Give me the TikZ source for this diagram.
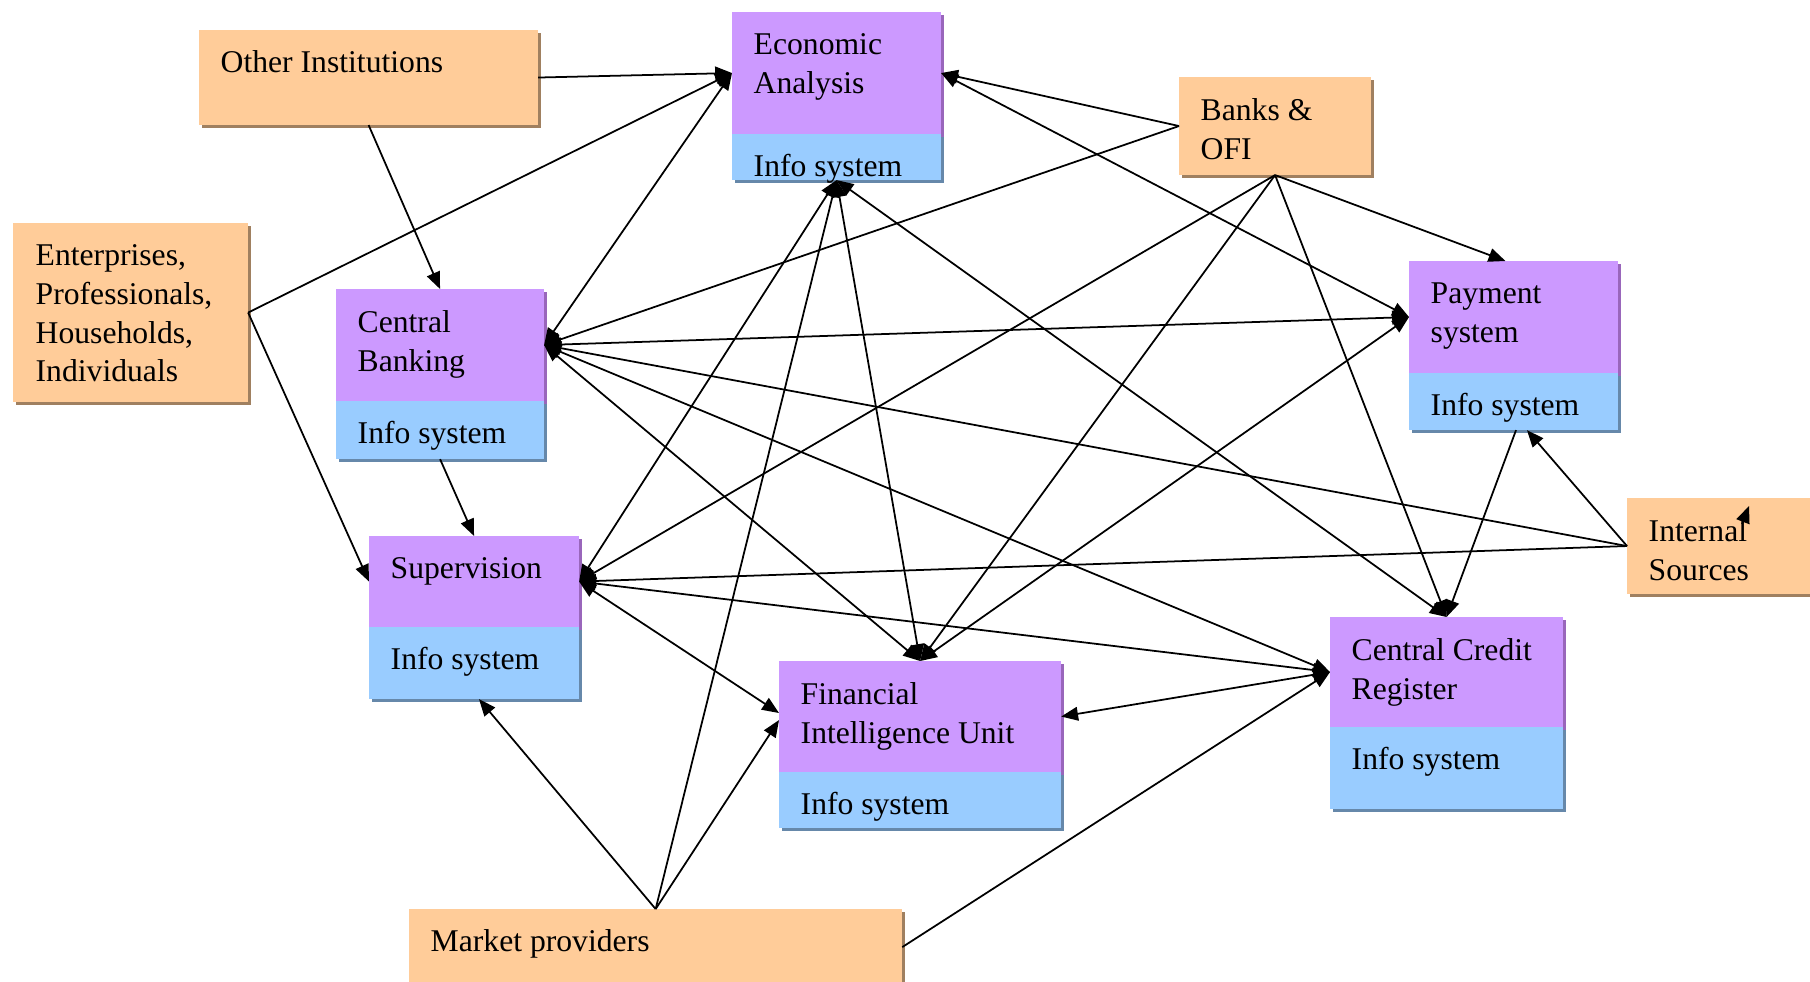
\documentclass[tikz,border=0pt]{standalone}
\usepackage{fontspec}
\setmainfont{Liberation Serif}
\usetikzlibrary{shapes,arrows,arrows.meta,positioning,shadows}
\definecolor{srcfill}{HTML}{FFCC99}
\definecolor{srcshade}{HTML}{A08060}
\definecolor{deptfill}{HTML}{CC99FF}
\definecolor{deptshade}{HTML}{9966BB}
\definecolor{infofill}{HTML}{99CCFF}
\definecolor{infoshade}{HTML}{6688AA}
\tikzset{%
	box/.style      = {rectangle, inner sep=0pt, outer sep=0pt},
	source/.style   = {box, anchor=north west, fill=srcfill,
		drop shadow={shadow xshift=0.85pt, shadow yshift=-0.85pt, fill=srcshade, opacity=1}}, % Data source
	dept/.style     = {box, anchor=north west, fill=deptfill,
		drop shadow={shadow xshift=0.85pt, shadow yshift=-0.85pt, fill=deptshade, opacity=1}}, % Department
	info/.style     = {box, fill=infofill,
		drop shadow={shadow xshift=0.85pt, shadow yshift=-0.85pt, fill=infoshade, opacity=1}}, % Info system
	txt/.style      = {anchor=north west, inner sep=0pt, align=left,
		font=\fontsize{9pt}{11pt}\selectfont, execute at begin node=\strut},
	flow/.style     = {line width=0.5pt, -{Triangle[length=4.8pt,width=3.9pt]}},
	both/.style     = {line width=0.5pt, {Triangle[length=4.8pt,width=3.9pt]}-{Triangle[length=4.8pt,width=3.9pt]}}
}
\begin{document}
\begin{tikzpicture}[x=0.01cm, y=-0.01cm]
			\useasboundingbox (0,0) rectangle (1810,981);
			% sources
			\node[source, minimum width=3.39cm, minimum height=0.95cm] (oi) at (199,30) {};
			\node[source, minimum width=2.35cm, minimum height=1.79cm] (ent) at (13,223) {};
			\node[source, minimum width=1.92cm, minimum height=0.98cm] (banks) at (1179,77) {};
			\node[source, minimum width=2.00cm, minimum height=0.96cm] (internal) at (1627,498) {};
			\node[source, minimum width=4.93cm, minimum height=1.00cm] (market) at (409,909) {};
			% departments
			\node[dept, minimum width=2.09cm, minimum height=1.22cm] (ea) at (732,12) {};
			\node[info, minimum width=2.09cm, minimum height=0.46cm, below=0pt of ea] (eainfo) {};
			\node[dept, minimum width=2.08cm, minimum height=1.12cm] (cb) at (336,289) {};
			\node[info, minimum width=2.08cm, minimum height=0.58cm, below=0pt of cb] (cbinfo) {};
			\node[dept, minimum width=2.10cm, minimum height=0.91cm] (sup) at (369,536) {};
			\node[info, minimum width=2.10cm, minimum height=0.72cm, below=0pt of sup] (supinfo) {};
			\node[dept, minimum width=2.82cm, minimum height=1.11cm] (fiu) at (779,661) {};
			\node[info, minimum width=2.82cm, minimum height=0.56cm, below=0pt of fiu] (fiuinfo) {};
			\node[dept, minimum width=2.09cm, minimum height=1.12cm] (pay) at (1409,261) {};
			\node[info, minimum width=2.09cm, minimum height=0.57cm, below=0pt of pay] (payinfo) {};
			\node[dept, minimum width=2.33cm, minimum height=1.10cm] (ccr) at (1330,617) {};
			\node[info, minimum width=2.33cm, minimum height=0.82cm, below=0pt of ccr] (ccrinfo) {};
			
			% texts
			\node[txt] (oitxt) at ([shift={(21,15)}]oi.north west) {Other Institutions};
			\node[txt] (enttxt) at ([shift={(22,21)}]ent.north west) {Enterprises,\\Professionals,\\Households,\\Individuals};
			\node[txt] (bankstxt) at ([shift={(21,21)}]banks.north west) {Banks \&\\OFI};
			\node[txt] (internaltxt) at ([shift={(21,21)}]internal.north west) {Internal\\Sources};
			\node[txt] (markettxt) at ([shift={(21,15)}]market.north west) {Market providers};
			\node[txt] (eatxt) at ([shift={(21,21)}]ea.north west) {Economic\\Analysis};
			\node[txt] (cbtxt) at ([shift={(21,21)}]cb.north west) {Central\\Banking};
			\node[txt] (suptxt) at ([shift={(21,15)}]sup.north west) {Supervision};
			\node[txt] (fiutxt) at ([shift={(21,21)}]fiu.north west) {Financial\\Intelligence Unit};
			\node[txt] (paytxt) at ([shift={(21,21)}]pay.north west) {Payment\\system};
			\node[txt] (ccrtxt) at ([shift={(21,21)}]ccr.north west) {Central Credit\\Register};
			\foreach \d in {ea,cb,sup,fiu,pay,ccr}
				\node[txt] (\d infotxt) at ([shift={(21,15)}]\d info.north west) {Info system};
			
			% flows
			\draw[flow] (oi.east) -- (ea.west);
			\draw[flow] (oi.south) -- (cb.north);
			\draw[flow] (ent.east) -- (ea.west);
			\draw[flow] (ent.east) -- (sup.west);
			\draw[flow] (banks.west) -- (ea.east);
			\draw[flow] (banks.west) -- (cb.east);
			\draw[flow] (banks.south) -- ([xshift=-2.3pt]pay.north);
			\draw[flow] (banks.south) -- (sup.east);
			\draw[flow] (banks.south) -- (fiu.north);
			\draw[flow] (banks.south) -- (ccr.north);
			\draw[both] (ea.east) -- (pay.west);
			\draw[both] (eainfo.south) -- (sup.east);
			\draw[both] (eainfo.south) -- (fiu.north);
			\draw[both] (eainfo.south) -- (ccr.north);
			\draw[flow] (market.north) -- (eainfo.south);
			\draw[both] (cb.east) -- (ea.west);
			\draw[both] (cb.east) -- (pay.west);
			\draw[both] (cb.east) -- (fiu.north);
			\draw[both] (cb.east) -- (ccr.west);
			\draw[flow] (internal.west) -- (cb.east);
			\draw[flow] (internal.west) -- (sup.east);
			\draw[flow] (internal.west) -- ([xshift=3.8pt]payinfo.south);
			\draw[flow] ([xshift=0.7pt]payinfo.south) -- (ccr.north);
			\draw[flow] (cbinfo.south) -- (sup.north);
			\draw[both] (sup.east) -- ([yshift=1pt]fiu.west);
			\draw[both] (sup.east) -- (ccr.west);
			\draw[flow] (market.north) -- ([yshift=-1pt]fiu.west);
			\draw[flow] (market.north) -- ([xshift=1.4pt]supinfo.south);
			\draw[flow] ([yshift=3.4pt]market.east) -- (ccr.west);
			\draw[both] (fiu.east) -- (ccr.west);
			\draw[both] (fiu.north) -- (pay.west);
			\coordinate (intA) at ([shift={(115,26)}]internal.north west);
			\coordinate (intB) at ([shift={(122,8)}]internal.north west);
			\draw[flow] (intA) -- (intB);
		\end{tikzpicture}
\end{document}
